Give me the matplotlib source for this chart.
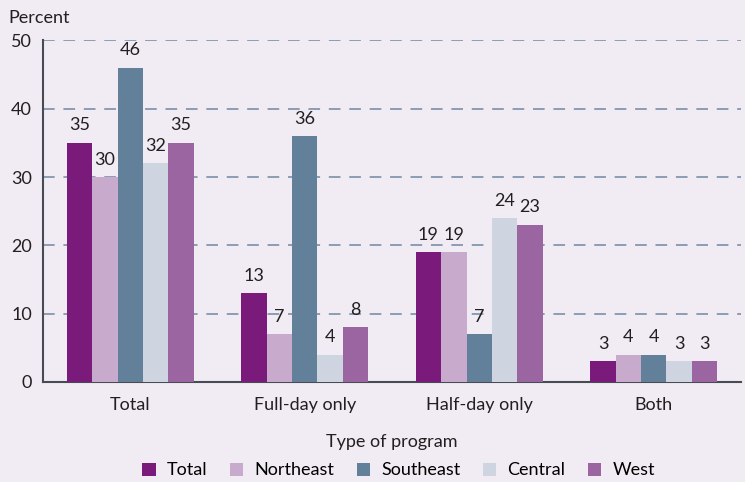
import matplotlib.pyplot as plt
import numpy as np

categories = ["Total", "Full-day only", "Half-day only", "Both"]
regions = ["Total", "Northeast", "Southeast", "Central", "West"]
total = [35, 13, 19, 3]
northeast = [30, 7, 19, 4]
southeast = [46, 36, 7, 4]
central = [32, 4, 24, 3]
west = [35, 8, 23, 3]
series = [total, northeast, southeast, central, west]
colors = ["#7a1a7a", "#c8aacd", "#63809b", "#cfd5e0", "#9a65a0"]

bg = "#f1ecf3"
plt.rcParams["font.family"] = ["Lato", "DejaVu Sans"]

fig = plt.figure(figsize=(7.45, 4.82), dpi=100, facecolor=bg)
ax = fig.add_axes([0.0577, 0.2075, 0.9369, 0.7085], facecolor=bg)

x = np.arange(len(categories))
w = 0.1455
for i, (name, vals) in enumerate(zip(regions, series)):
    pos = x + (i - 2) * w
    ax.bar(pos, vals, width=w, color=colors[i], label=name, zorder=3)
    for p, v in zip(pos, vals):
        ax.text(p, v + 1.4, str(v), ha="center", va="bottom", fontsize=13, color="#231f20")

ax.set_xlim(-0.5, 3.5)
ax.set_ylim(0, 50)
ax.set_yticks([0, 10, 20, 30, 40, 50])
ax.set_xticks(x)
ax.set_xticklabels(categories)
ax.tick_params(length=0, labelsize=13, colors="#231f20")
ax.tick_params(axis="x", pad=11)
ax.tick_params(axis="y", pad=8)
for yv in [10, 20, 30, 40, 50]:
    ax.axhline(yv, color="#8c9cb3", linestyle=(0, (6, 4.5)), linewidth=1.4, zorder=1)

for s in ["top", "right"]:
    ax.spines[s].set_visible(False)
ax.spines["left"].set_color("#4a4a55")
ax.spines["bottom"].set_color("#4a4a55")
ax.spines["left"].set_linewidth(1.5)
ax.spines["bottom"].set_linewidth(1.5)

fig.text(0.011, 0.962, "Percent", fontsize=13, color="#231f20", va="center")
ax.set_xlabel("Type of program", fontsize=13, color="#231f20", labelpad=15)

fig.legend(loc="center", bbox_to_anchor=(0.535, 0.024), ncol=5, frameon=False,
           fontsize=13, handlelength=0.75, handleheight=0.75, columnspacing=1.25,
           handletextpad=0.6)

fig.savefig("out.png", dpi=100, facecolor=bg)
